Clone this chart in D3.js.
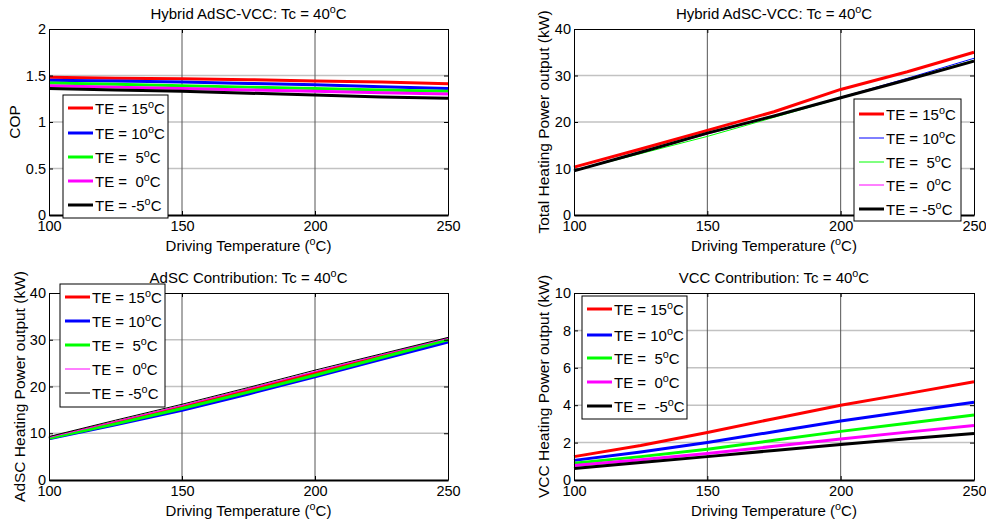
<!DOCTYPE html>
<html>
<head>
<meta charset="utf-8">
<script src="https://cdn.jsdelivr.net/npm/d3@7"></script>
<style>
  body { margin: 0; background: #fff; }
  svg { display: block; font-family: "Liberation Sans", Arial, sans-serif; }
</style>
</head>
<body>
<div id="chart"></div>
<script>
// driving temperature (degC)
const driveTemps = [100, 125, 150, 175, 200, 225, 250];

const teLabels = ['TE = 15^C', 'TE = 10^C', 'TE =  5^C', 'TE =  0^C', 'TE = -5^C'];
const teLabelsVcc = ['TE = 15^C', 'TE = 10^C', 'TE =  5^C', 'TE =  0^C', 'TE =  -5^C'];
const colors = ['#ff0000', '#0000ff', '#00ff00', '#ff00ff', '#000000'];

// hybrid COP
const copTE15 = [1.48, 1.47, 1.465, 1.455, 1.44, 1.43, 1.41];
const copTE10 = [1.45, 1.44, 1.43, 1.415, 1.40, 1.38, 1.36];
const copTE5 = [1.42, 1.405, 1.39, 1.375, 1.36, 1.345, 1.33];
const copTE0 = [1.39, 1.375, 1.36, 1.345, 1.33, 1.315, 1.30];
const copTEm5 = [1.36, 1.345, 1.33, 1.31, 1.29, 1.27, 1.255];

// total heating power (kW)
const totTE15 = [10.3, 14.2, 18.2, 22.2, 27.0, 30.8, 35.0];
const totTE10 = [9.6, 13.5, 17.5, 21.3, 25.3, 29.4, 33.7];
const totTE5 = [9.5, 13.2, 16.9, 21.0, 25.1, 29.2, 33.3];
const totTE0 = [9.5, 13.4, 17.4, 21.2, 25.2, 29.1, 33.2];
const totTEm5 = [9.5, 13.5, 17.6, 21.3, 25.2, 29.1, 33.1];

// AdSC heating power (kW)
const adTE15 = [9.0, 12.3, 15.7, 19.3, 22.9, 26.5, 30.1];
const adTE10 = [8.8, 11.8, 14.9, 18.4, 22.1, 25.8, 29.5];
const adTE5 = [8.9, 12.0, 15.3, 18.8, 22.4, 26.2, 30.0];
const adTE0 = [9.1, 12.5, 15.9, 19.5, 23.2, 26.8, 30.3];
const adTEm5 = [9.3, 12.8, 16.2, 19.8, 23.5, 27.0, 30.5];

// VCC heating power (kW)
const vccTE15 = [1.25, 1.85, 2.54, 3.28, 4.0, 4.62, 5.25];
const vccTE10 = [1.05, 1.5, 2.01, 2.58, 3.15, 3.66, 4.16];
const vccTE5 = [0.89, 1.25, 1.65, 2.12, 2.6, 3.04, 3.47];
const vccTE0 = [0.77, 1.08, 1.42, 1.8, 2.19, 2.56, 2.92];
const vccTEm5 = [0.62, 0.93, 1.25, 1.58, 1.9, 2.2, 2.49];

const xTicks = [100, 150, 200, 250];

const width = 986;
const height = 524;

const svg = d3.select('#chart')
  .append('svg')
  .attr('width', width)
  .attr('height', height);

// text with "^" standing for a superscript o
function supText(sel, str) {
  const parts = str.split('^');
  sel.append('tspan').text(parts[0]);
  for (let i = 1; i < parts.length; i++) {
    sel.append('tspan').attr('dy', -6).attr('font-size', '0.72em').text('o');
    sel.append('tspan').attr('dy', 6).text(parts[i]);
  }
  return sel;
}

const panels = [
  {
    left: 49, right: 448, top: 29, bottom: 215,
    title: 'Hybrid AdSC-VCC: Tc = 40^C', ylabel: 'COP', ylabelX: 15,
    yDomain: [0, 2], yTicks: [0, 0.5, 1, 1.5, 2], yFmt: d3.format(''),
    series: [copTE15, copTE10, copTE5, copTE0, copTEm5],
    widths: [3, 3, 3, 3, 3], labels: teLabels,
    legend: { x: 63, y: 95, w: 105, h: 123, rows: [108, 133, 157, 181, 205] }
  },
  {
    left: 574, right: 974, top: 29, bottom: 215,
    title: 'Hybrid AdSC-VCC: Tc = 40^C', ylabel: 'Total Heating Power output (kW)', ylabelX: 544,
    yDomain: [0, 40], yTicks: [0, 10, 20, 30, 40], yFmt: d3.format('d'),
    series: [totTE15, totTE10, totTE5, totTE0, totTEm5],
    widths: [3, 1, 1, 1, 3], labels: teLabels,
    legend: { x: 854, y: 99, w: 107, h: 122, rows: [114, 138, 162, 185, 209] }
  },
  {
    left: 49, right: 448, top: 293, bottom: 480,
    title: 'AdSC Contribution: Tc = 40^C', ylabel: 'AdSC Heating Power output (kW)', ylabelX: 20,
    yDomain: [0, 40], yTicks: [0, 10, 20, 30, 40], yFmt: d3.format('d'),
    series: [adTE15, adTE10, adTE5, adTE0, adTEm5],
    widths: [3, 3, 3, 1, 1], labels: teLabels,
    legend: { x: 60, y: 284, w: 105, h: 123, rows: [297, 321, 345, 369, 393] }
  },
  {
    left: 574, right: 974, top: 293, bottom: 480,
    title: 'VCC Contribution: Tc = 40^C', ylabel: 'VCC Heating Power output (kW)', ylabelX: 544,
    yDomain: [0, 10], yTicks: [0, 2, 4, 6, 8, 10], yFmt: d3.format('d'),
    series: [vccTE15, vccTE10, vccTE5, vccTE0, vccTEm5],
    widths: [3, 3, 3, 3, 3], labels: teLabelsVcc,
    legend: { x: 582, y: 296, w: 105, h: 123, rows: [309, 335, 358, 382, 406] }
  }
];

panels.forEach(p => {
  const x = d3.scaleLinear().domain([100, 250]).range([p.left, p.right]);
  const y = d3.scaleLinear().domain(p.yDomain).range([p.bottom, p.top]);
  const g = svg.append('g');

  // grid
  g.selectAll('.hgrid')
    .data(p.yTicks.slice(1, -1))
    .enter().append('line')
    .attr('x1', p.left).attr('x2', p.right)
    .attr('y1', d => y(d)).attr('y2', d => y(d))
    .attr('stroke', '#c2c2c2').attr('stroke-width', 1.5);

  g.selectAll('.vgrid')
    .data(xTicks.slice(1, -1))
    .enter().append('line')
    .attr('x1', d => x(d)).attr('x2', d => x(d))
    .attr('y1', p.top).attr('y2', p.bottom)
    .attr('stroke', '#555').attr('stroke-width', 1);

  // lines
  const line = d3.line()
    .x((d, i) => x(driveTemps[i]))
    .y(d => y(d));

  p.series.forEach((s, i) => {
    g.append('path')
      .attr('d', line(s))
      .attr('fill', 'none')
      .attr('stroke', colors[i])
      .attr('stroke-width', p.widths[i])
      .attr('stroke-linejoin', 'round');
  });

  // axes with inward ticks on all sides
  g.append('g')
    .attr('transform', `translate(0,${p.bottom})`)
    .call(d3.axisBottom(x).tickValues(xTicks).tickSize(-4).tickPadding(9).tickSizeOuter(0))
    .call(a => a.select('.domain').attr('stroke-width', 2))
    .call(a => a.selectAll('text').attr('font-size', 14.5).attr('fill', '#000').attr('dy', '0.5em'));

  g.append('g')
    .attr('transform', `translate(0,${p.top})`)
    .call(d3.axisTop(x).tickValues(xTicks).tickSize(-4).tickFormat('').tickSizeOuter(0));

  g.append('g')
    .attr('transform', `translate(${p.left},0)`)
    .call(d3.axisLeft(y).tickValues(p.yTicks).tickFormat(p.yFmt).tickSize(-4).tickPadding(3).tickSizeOuter(0))
    .call(a => a.selectAll('text').attr('font-size', 14.5).attr('fill', '#000'));

  g.append('g')
    .attr('transform', `translate(${p.right},0)`)
    .call(d3.axisRight(y).tickValues(p.yTicks).tickSize(-4).tickFormat('').tickSizeOuter(0));

  g.selectAll('.domain').attr('stroke', '#000');
  g.selectAll('.tick line').attr('stroke', '#000');

  // title and labels
  supText(g.append('text')
    .attr('x', (p.left + p.right) / 2)
    .attr('y', p.top - 10)
    .attr('text-anchor', 'middle')
    .attr('font-size', 15), p.title);

  supText(g.append('text')
    .attr('x', (p.left + p.right) / 2)
    .attr('y', p.bottom + 36)
    .attr('text-anchor', 'middle')
    .attr('font-size', 15), 'Driving Temperature (^C)');

  g.append('text')
    .attr('transform', `translate(${p.ylabelX + 5},${(p.top + p.bottom) / 2}) rotate(-90)`)
    .attr('text-anchor', 'middle')
    .attr('font-size', 15.5)
    .text(p.ylabel);

  // legend
  const lg = p.legend;
  g.append('rect')
    .attr('x', lg.x).attr('y', lg.y)
    .attr('width', lg.w).attr('height', lg.h)
    .attr('fill', '#fff').attr('stroke', '#000').attr('stroke-width', 1);

  p.labels.forEach((lab, i) => {
    g.append('line')
      .attr('x1', lg.x + 5).attr('x2', lg.x + 30)
      .attr('y1', lg.rows[i]).attr('y2', lg.rows[i])
      .attr('stroke', colors[i])
      .attr('stroke-width', p.widths[i]);
    supText(g.append('text')
      .attr('x', lg.x + 32)
      .attr('y', lg.rows[i] + 6)
      .attr('font-size', 15)
      .style('white-space', 'pre'), lab);
  });
});
</script>
</body>
</html>
